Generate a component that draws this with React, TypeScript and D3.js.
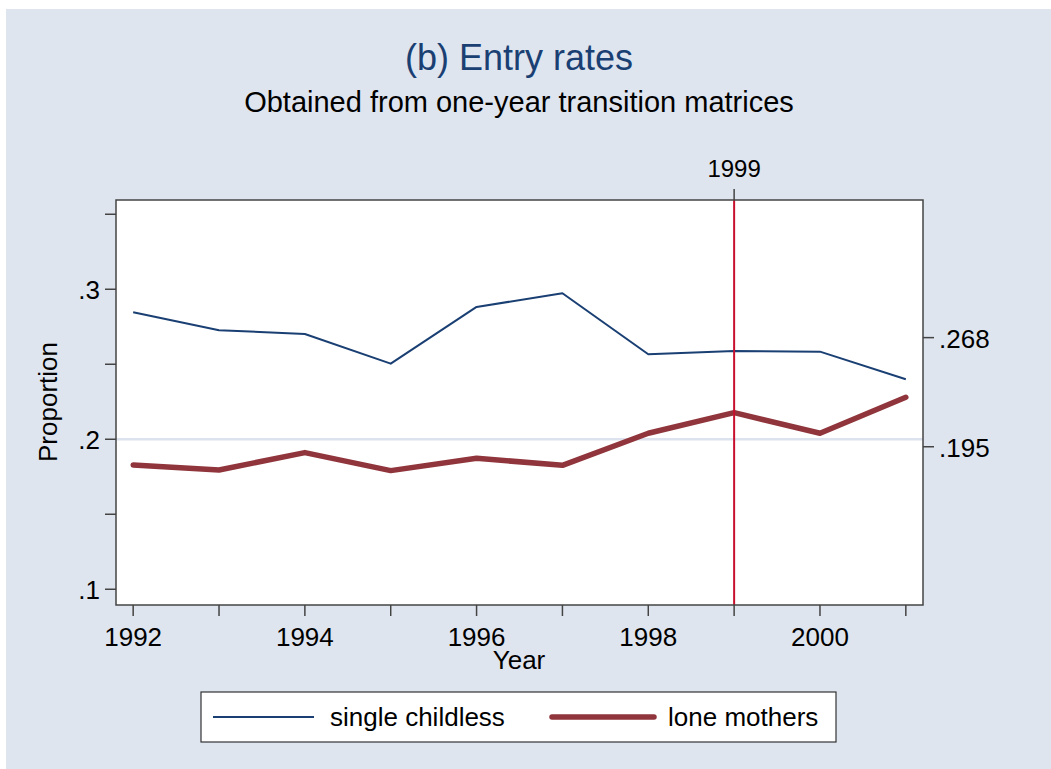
import React from "react";
import * as d3 from "d3";

const years = [1992, 1993, 1994, 1995, 1996, 1997, 1998, 1999, 2000, 2001];
const singleChildless = [0.2847, 0.2727, 0.2702, 0.2504, 0.2882, 0.2973, 0.2567, 0.2589, 0.2584, 0.24];
const loneMothers = [0.1829, 0.1795, 0.1911, 0.1791, 0.1873, 0.1826, 0.204, 0.2177, 0.204, 0.228];
const leftTicks = [0.1, 0.15, 0.2, 0.25, 0.3, 0.35];
const leftLabels = [0.1, 0.2, 0.3];
const xLabelYears = [1992, 1994, 1996, 1998, 2000];
const gridValues = [0.2];
const markYear = 1999;
const seriesNames = ["single childless", "lone mothers"];

const W = 1051, H = 769;
const PL = 116, PR = 923, PT = 200, PB = 605;
const FONT = "'Liberation Sans', Arial, Helvetica, sans-serif";
const NAVY = "#1a3f73";
const MAROON = "#90353b";
const BG = "#dfe5ef";
const FS = 26;

export default function App() {
  const x = d3.scaleLinear().domain([1991.8, 2001.2]).range([PL, PR]);
  const y = d3.scaleLinear().domain([0.0895, 0.3595]).range([PB, PT]);
  const line = d3.line<number>().x((_, i) => x(years[i])).y((d) => y(d));
  const fmt = (v: number) => d3.format(".1f")(v).replace(/^0/, "");
  const fmt3 = (v: number) => d3.format(".3f")(v).replace(/^0/, "");
  const meanS = d3.mean(singleChildless)!;
  const meanL = d3.mean(loneMothers)!;
  const rightTicks = [meanS, Math.floor(meanL * 1000) / 1000];

  return (
    <svg width={W} height={H} style={{ position: "absolute", left: 0, top: 0, display: "block" }} fontFamily={FONT}>
      <rect x={0} y={0} width={W} height={H} fill="#ffffff" />
      <rect x={6} y={9} width={W - 6} height={H - 9} fill={BG} />
      <text x={519} y={70} textAnchor="middle" fontSize={36} fill={NAVY}>(b) Entry rates</text>
      <text x={519} y={112} textAnchor="middle" fontSize={29} fill="#000">Obtained from one-year transition matrices</text>

      <rect x={PL} y={PT} width={PR - PL} height={PB - PT} fill="#fff" />
      {gridValues.map((g) => (
        <line key={g} x1={PL} x2={PR} y1={y(g)} y2={y(g)} stroke="#dce3ee" strokeWidth={2.5} />
      ))}

      <path d={line(singleChildless) || ""} fill="none" stroke={NAVY} strokeWidth={2} strokeLinejoin="round" />
      <path d={line(loneMothers) || ""} fill="none" stroke={MAROON} strokeWidth={5.5} strokeLinejoin="round" strokeLinecap="round" />

      <line x1={x(markYear)} x2={x(markYear)} y1={PT} y2={PB} stroke="#c8102e" strokeWidth={2} />
      <rect x={PL} y={PT} width={PR - PL} height={PB - PT} fill="none" stroke="#444" strokeWidth={1.5} />

      {/* left axis */}
      {leftTicks.map((t) => (
        <line key={t} x1={PL - 11} x2={PL} y1={y(t)} y2={y(t)} stroke="#444" strokeWidth={1.5} />
      ))}
      {leftLabels.map((t) => (
        <text key={t} x={PL - 16} y={y(t) + 10} textAnchor="end" fontSize={FS} fill="#000">{fmt(t)}</text>
      ))}
      <text transform={`translate(57,402) rotate(-90)`} textAnchor="middle" fontSize={FS} fill="#000">Proportion</text>

      {/* right axis */}
      {rightTicks.map((t, i) => (
        <g key={i}>
          <line x1={PR} x2={PR + 11} y1={y(t)} y2={y(t)} stroke="#444" strokeWidth={1.5} />
          <text x={PR + 16} y={y(t) + 10} fontSize={FS} fill="#000">{fmt3(t)}</text>
        </g>
      ))}

      {/* bottom axis */}
      {years.map((yr) => (
        <line key={yr} x1={x(yr)} x2={x(yr)} y1={PB} y2={PB + 11} stroke="#444" strokeWidth={1.5} />
      ))}
      {xLabelYears.map((yr) => (
        <text key={yr} x={x(yr)} y={646} textAnchor="middle" fontSize={FS} fill="#000">{yr}</text>
      ))}
      <text x={519} y={669} textAnchor="middle" fontSize={FS} fill="#000">Year</text>

      {/* top axis */}
      <line x1={x(markYear)} x2={x(markYear)} y1={PT - 11} y2={PT} stroke="#444" strokeWidth={1.5} />
      <text x={x(markYear)} y={177} textAnchor="middle" fontSize={24} fill="#000">{markYear}</text>

      {/* legend */}
      <rect x={201} y={692} width={635} height={50} fill="#fff" stroke="#333" strokeWidth={1.2} />
      <line x1={213} x2={314} y1={717} y2={717} stroke={NAVY} strokeWidth={2} />
      <text x={330} y={726} fontSize={FS} fill="#000">{seriesNames[0]}</text>
      <line x1={552} x2={654} y1={717} y2={717} stroke={MAROON} strokeWidth={5.5} strokeLinecap="round" />
      <text x={668} y={726} fontSize={FS} fill="#000">{seriesNames[1]}</text>
    </svg>
  );
}
